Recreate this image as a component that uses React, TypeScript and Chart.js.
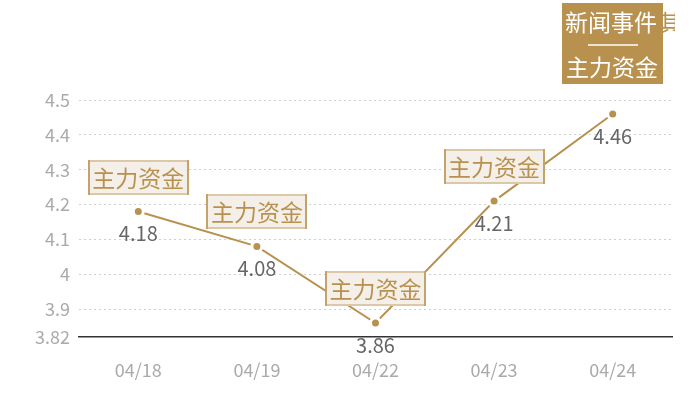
import React, { useEffect, useRef } from 'react';
import { Chart, registerables } from 'chart.js';

Chart.register(...registerables);

const dates = ['04/18', '04/19', '04/22', '04/23', '04/24'];
const prices = [4.18, 4.08, 3.86, 4.21, 4.46];
const eventLabels = ['主力资金', '主力资金', '主力资金', '主力资金', ''];
const yTicks = [3.82, 3.9, 4.0, 4.1, 4.2, 4.3, 4.4, 4.5];

const GOLD = '#b8914f';
const FONT = '"Noto Sans CJK SC", "Noto Sans", sans-serif';

const annotPlugin = {
  id: 'annot',
  afterDatasetsDraw(chart: Chart) {
    const ctx = chart.ctx;
    const meta = chart.getDatasetMeta(0);
    ctx.save();
    meta.data.forEach((pt: any, i: number) => {
      const { x, y } = pt;
      ctx.fillStyle = '#666';
      ctx.font = `20px ${FONT}`;
      ctx.textAlign = 'center';
      ctx.textBaseline = 'middle';
      ctx.fillText(String(prices[i]), x, y + 22);

      if (eventLabels[i]) {
        const w = 101;
        const h = 35;
        const left = Math.round(x - w / 2);
        const top = Math.round(y - 17 - h);
        ctx.fillStyle = '#f4f0e9';
        ctx.fillRect(left, top, w, h);
        ctx.fillStyle = '#dcc8a6';
        ctx.fillRect(left, top, w, 2);
        ctx.fillRect(left, top + h - 2, w, 2);
        ctx.fillStyle = '#c4a36a';
        ctx.fillRect(left, top, 2, h);
        ctx.fillRect(left + w - 2, top, 2, h);
        ctx.fillStyle = GOLD;
        ctx.font = `23px ${FONT}`;
        ctx.fillText(eventLabels[i], x, top + h / 2 + 1);
      }
    });

    // legend box top right
    ctx.fillStyle = GOLD;
    ctx.fillRect(562, 3, 101, 81);
    ctx.font = `23px ${FONT}`;
    ctx.textAlign = 'left';
    ctx.fillStyle = '#fff';
    ctx.fillText('新闻事件', 565, 22);
    ctx.save();
    ctx.beginPath();
    ctx.rect(663, 0, 12, 40);
    ctx.clip();
    ctx.fillStyle = GOLD;
    ctx.fillText('其', 659, 22);
    ctx.restore();
    ctx.strokeStyle = '#fff';
    ctx.lineWidth = 1.5;
    ctx.beginPath();
    ctx.moveTo(588, 45);
    ctx.lineTo(638, 45);
    ctx.stroke();
    ctx.fillStyle = '#fff';
    ctx.textAlign = 'center';
    ctx.fillText('主力资金', 612, 67);
    ctx.restore();
  },
};

export default function App() {
  const chartRef = useRef<HTMLCanvasElement>(null);
  const chartInstance = useRef<Chart | null>(null);

  useEffect(() => {
    if (!chartRef.current) return;
    if (chartInstance.current) chartInstance.current.destroy();
    const ctx = chartRef.current.getContext('2d');
    if (!ctx) return;

    chartInstance.current = new Chart(ctx, {
      type: 'line',
      data: {
        labels: dates,
        datasets: [
          {
            data: prices,
            borderColor: GOLD,
            borderWidth: 2,
            pointRadius: 5,
            pointBackgroundColor: GOLD,
            pointBorderColor: '#fff',
            pointBorderWidth: 3,
            tension: 0,
          },
        ],
      },
      options: {
        responsive: true,
        maintainAspectRatio: false,
        animation: false,
        layout: { padding: { top: 100, right: 28, left: 0, bottom: 0 } },
        plugins: {
          legend: { display: false },
          tooltip: { enabled: false },
        },
        scales: {
          x: {
            offset: true,
            grid: { display: false, drawTicks: false },
            border: { color: '#333', width: 1.5 },
            ticks: { color: '#aaa', font: { size: 18, family: FONT }, padding: 22 },
            afterFit: (scale: any) => {
              scale.height = 63;
            },
          },
          y: {
            min: 3.82,
            max: 4.5,
            afterBuildTicks: (scale: any) => {
              scale.ticks = yTicks.map(v => ({ value: v }));
            },
            afterFit: (scale: any) => {
              scale.width = 79;
            },
            grid: {
              color: (c: any) => (c.tick && c.tick.value === 3.82 ? 'rgba(0,0,0,0)' : '#cfcfcf'),
              drawTicks: false,
            },
            border: { display: false, dash: [2, 3] },
            ticks: {
              color: '#aaa',
              font: { size: 18, family: FONT },
              padding: 9,
              callback: (v: any) => String(Number(v)),
            },
          },
        },
      },
      plugins: [annotPlugin],
    });

    return () => {
      if (chartInstance.current) {
        chartInstance.current.destroy();
        chartInstance.current = null;
      }
    };
  }, []);

  return (
    <div style={{ position: 'absolute', left: 0, top: 0, width: 700, height: 400, background: '#fff' }}>
      <canvas ref={chartRef}></canvas>
    </div>
  );
}
